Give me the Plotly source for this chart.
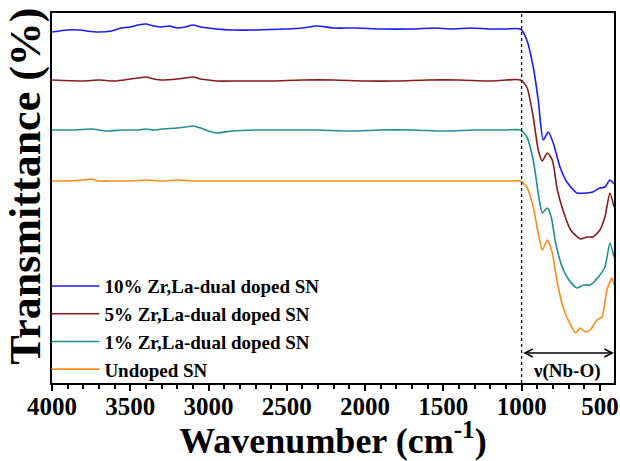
import plotly.graph_objects as go

# Wavenumber (cm^-1) and transmittance (a.u., offset traces)
wn_blue = [4000, 3900, 3820, 3780, 3700, 3620, 3560, 3500, 3450, 3400, 3350, 3300, 3250, 3200, 3150, 3100, 3050, 3000, 2950, 2850, 2700, 2500, 2400, 2310, 2200, 2060, 1900, 1700, 1550, 1450, 1325, 1200, 1100, 1007,
           967, 926, 894, 862, 830, 798, 755, 711, 647, 583, 545, 500, 468, 436, 410]
t_blue = [351, 353, 353, 352, 351, 352, 355, 356, 358, 359, 357, 356, 357, 355, 356, 358, 356, 355, 354, 353, 353, 354, 355, 357, 355, 355, 354, 354, 355, 354, 355, 354, 354, 354,
          343, 316, 283, 243, 251, 240, 216, 201, 190, 190, 191, 195, 196, 203, 199]

wn_red = [4000, 3800, 3700, 3600, 3500, 3450, 3400, 3350, 3300, 3200, 3150, 3100, 3050, 3000, 2950, 2800, 2600, 2400, 2200, 2000, 1800, 1600, 1400, 1200, 1100, 1007,
          967, 926, 894, 868, 836, 804, 772, 730, 687, 625, 583, 545, 500, 468, 436, 410]
t_red = [303, 302, 303, 302, 304, 305, 306, 304, 303, 304, 305, 306, 304, 303, 302, 302, 302, 303, 303, 302, 302, 303, 303, 302, 303, 303,
         296, 266, 233, 222, 230, 223, 193, 170, 153, 144, 146, 146, 153, 166, 190, 176]

wn_teal = [4000, 3850, 3750, 3650, 3550, 3450, 3400, 3350, 3300, 3200, 3150, 3100, 3050, 3000, 2950, 2850, 2700, 2500, 2300, 2100, 1900, 1700, 1500, 1300, 1100, 1007,
           967, 926, 894, 868, 836, 811, 783, 741, 698, 647, 604, 562, 510, 468, 436, 410]
t_teal = [253, 253, 254, 252, 253, 253, 254, 253, 254, 255, 256, 257, 255, 252, 250, 252, 253, 253, 253, 252, 253, 253, 252, 253, 253, 253,
          246, 223, 190, 170, 175, 166, 140, 116, 103, 95, 98, 98, 106, 116, 140, 126]

wn_orange = [4000, 3900, 3800, 3750, 3700, 3600, 3500, 3400, 3300, 3200, 3100, 3000, 2800, 2500, 2200, 1900, 1600, 1400, 1200, 1050, 1007,
             967, 926, 894, 868, 836, 804, 772, 730, 687, 655, 625, 593, 562, 519, 487, 455, 423, 410]
t_orange = [202, 202, 203, 204, 202, 202, 202, 203, 202, 203, 202, 202, 202, 202, 202, 202, 202, 202, 202, 202, 202,
            196, 176, 150, 133, 143, 130, 100, 73, 58, 50, 55, 51, 53, 63, 66, 93, 105, 98]

labels = ["10% Zr,La-dual doped SN", "5% Zr,La-dual doped SN", "1% Zr,La-dual doped SN", "Undoped SN"]
colors = ["#1a1aff", "#8b1a1a", "#1f9090", "#ff8c1a"]
series = [(wn_blue, t_blue), (wn_red, t_red), (wn_teal, t_teal), (wn_orange, t_orange)]

x_ticks = [4000, 3500, 3000, 2500, 2000, 1500, 1000, 500]

FONT = "Liberation Serif"

fig = go.Figure()
for (x, y), name, c in zip(series, labels, colors):
    fig.add_trace(go.Scatter(x=x, y=y, mode="lines", name="<b>%s</b>" % name,
                             line=dict(color=c, width=1.6, shape="spline", smoothing=0.6)))

fig.add_shape(type="line", xref="x", yref="paper", x0=1000, x1=1000, y0=0, y1=1,
              line=dict(color="black", width=1.2, dash="dot"))

fig.add_annotation(x=410, y=30, ax=1000, ay=30, xref="x", yref="y", axref="x", ayref="y",
                   text="", showarrow=True, arrowside="end+start", arrowhead=5,
                   arrowsize=1.2, arrowwidth=1.3, arrowcolor="black")
fig.add_annotation(x=711, y=12, xref="x", yref="y", text="<b>ν(Nb-O)</b>", showarrow=False,
                   font=dict(family=FONT, size=19, color="black"))

# y-axis title (placed as rotated text to match reference position)
fig.add_annotation(x=-0.047, y=0.532, xref="paper", yref="paper", xanchor="center", yanchor="middle",
                   text="<b>Transmittance (%)</b>", textangle=-90, showarrow=False,
                   font=dict(family=FONT, size=44, color="black"))

fig.update_layout(
    width=620, height=461,
    margin=dict(l=52, r=6, t=13, b=78, autoexpand=False),
    plot_bgcolor="white", paper_bgcolor="white",
    font=dict(family=FONT, color="black"),
    showlegend=True,
    legend=dict(x=-0.010, y=-0.014, xanchor="left", yanchor="bottom",
                bgcolor="rgba(0,0,0,0)", traceorder="normal",
                font=dict(family=FONT, size=19, color="black"),
                itemwidth=48, tracegroupgap=0),
    xaxis=dict(range=[4000, 410], showgrid=False, zeroline=False, automargin=False,
               showline=True, linecolor="black", linewidth=2, mirror=True,
               ticks="outside", ticklen=6, tickwidth=2, tickcolor="black",
               tickmode="array", tickvals=x_ticks,
               ticktext=["<b>%d</b>" % v for v in x_ticks],
               tickfont=dict(family=FONT, size=25, color="black"),
               ticklabelstandoff=-6,
               minor=dict(tickmode="linear", dtick=100, ticks="outside", ticklen=4, tickwidth=1.5, tickcolor="black", tick0=0),
               title=dict(text="<b>Wavenumber (cm<sup>-1</sup>)</b>", font=dict(family=FONT, size=36, color="black"))),
    yaxis=dict(range=[0, 370], showgrid=False, zeroline=False, automargin=False,
               showline=True, linecolor="black", linewidth=2, mirror=True,
               showticklabels=False, ticks=""),
)

fig.write_html("out.html", config={"displayModeBar": False},
               post_script="document.body.style.margin='0';")
